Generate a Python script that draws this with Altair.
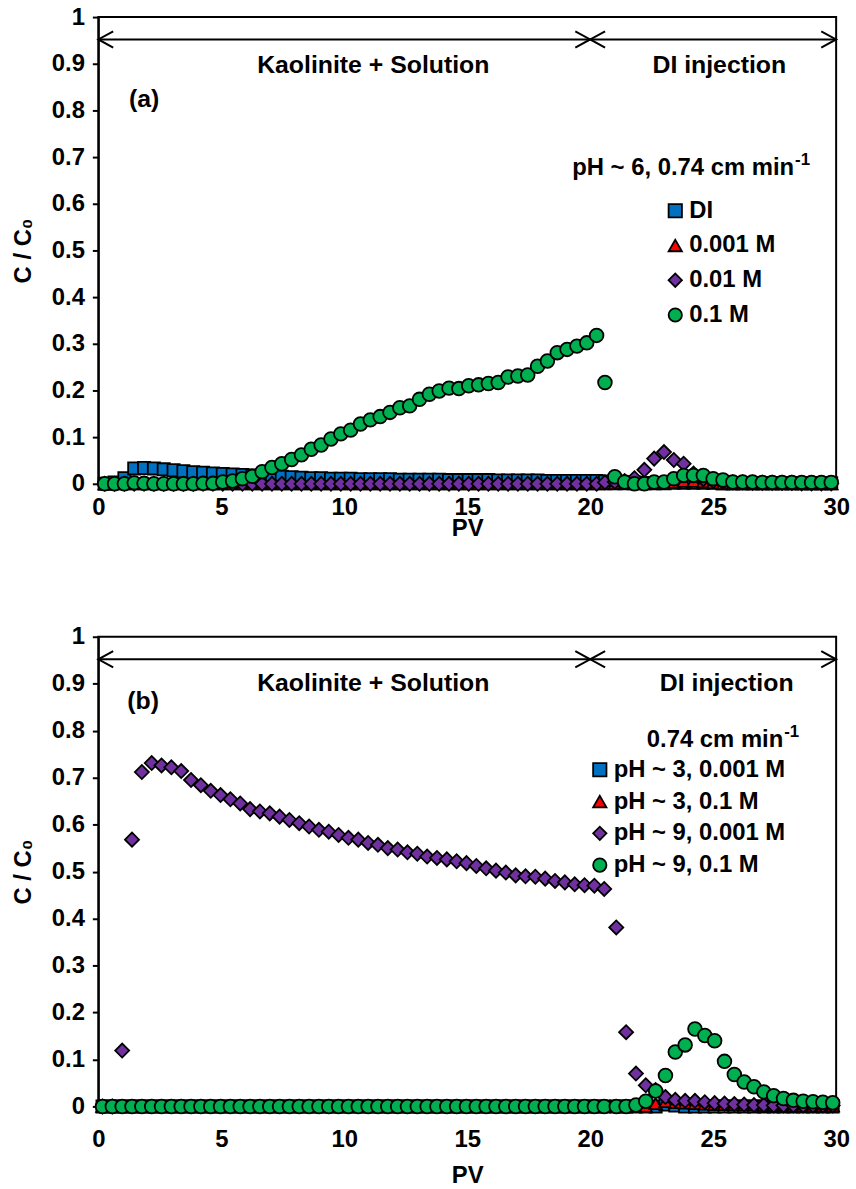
import altair as alt
import pandas as pd

FONT = "Liberation Sans, Arial, sans-serif"

# ---------------- panel (a) ----------------
pv_a = [0.26, 0.66, 1.06, 1.46, 1.86, 2.26, 2.66, 3.06, 3.46, 3.86,
        4.26, 4.66, 5.06, 5.46, 5.86, 6.26, 6.66, 7.06, 7.46, 7.86,
        8.26, 8.66, 9.06, 9.46, 9.86, 10.26, 10.66, 11.06, 11.46, 11.86,
        12.26, 12.66, 13.06, 13.46, 13.86, 14.26, 14.66, 15.06, 15.46, 15.86,
        16.26, 16.66, 17.06, 17.46, 17.86, 18.26, 18.66, 19.06, 19.46, 19.86,
        20.26, 20.6, 21.0, 21.4, 21.8, 22.2, 22.6, 23.0, 23.4, 23.8,
        24.2, 24.6, 25.0, 25.4, 25.8, 26.2, 26.6, 27.0, 27.4, 27.8,
        28.2, 28.6, 29.0, 29.4, 29.8]

di_a = [0, 0.003, 0.012, 0.033, 0.034, 0.033, 0.031, 0.029, 0.027, 0.025,
        0.024, 0.022, 0.021, 0.02, 0.019, 0.018, 0.017, 0.016, 0.015, 0.014,
        0.013, 0.012, 0.012, 0.011, 0.011, 0.011, 0.01, 0.01, 0.01, 0.01,
        0.009, 0.009, 0.009, 0.009, 0.009, 0.008, 0.008, 0.008, 0.008, 0.008,
        0.007, 0.007, 0.007, 0.007, 0.007, 0.006, 0.006, 0.006, 0.006, 0.006,
        0.006, 0.005, 0.004, 0.003, 0.003, 0.002, 0.002, 0.002, 0.002, 0.002,
        0.002, 0.002, 0.002, 0.001, 0.001, 0.001, 0.001, 0.001, 0.001, 0.001,
        0.001, 0.001, 0.001, 0.001, 0.001]

m0001_a = [0, 0, 0, 0, 0, 0, 0, 0, 0, 0,
           0, 0, 0, 0, 0, 0, 0, 0, 0, 0,
           0, 0, 0, 0, 0, 0, 0, 0, 0, 0,
           0, 0, 0, 0, 0, 0, 0, 0, 0, 0,
           0, 0, 0, 0, 0, 0, 0, 0, 0, 0,
           0, 0, 0, 0, 0, 0, 0, 0, 0.003, 0.005,
           0.005, 0.004, 0.002, 0, 0, 0, 0, 0, 0, 0,
           0, 0, 0, 0, 0]

m001_a = [0, 0, 0, 0, 0, 0, 0, 0, 0, 0,
          0, 0, 0, 0, 0, 0, 0, 0, 0, 0,
          0, 0, 0, 0, 0, 0, 0, 0, 0, 0,
          0, 0, 0, 0, 0, 0, 0, 0, 0, 0,
          0, 0, 0, 0, 0, 0, 0, 0, 0, 0,
          0, 0.003, 0.004, 0.006, 0.012, 0.03, 0.054, 0.068, 0.051, 0.043,
          0.022, 0.01, 0.006, 0.004, 0.003, 0.003, 0.002, 0.002, 0.002, 0.002,
          0.002, 0.001, 0.001, 0.001, 0.001]

m01_a = [0, 0, 0, 0.002, 0.001, 0, 0, 0, 0, 0,
         0.001, 0.001, 0.004, 0.006, 0.011, 0.016, 0.026, 0.035, 0.043, 0.052,
         0.062, 0.074, 0.083, 0.096, 0.107, 0.115, 0.128, 0.137, 0.144, 0.153,
         0.163, 0.167, 0.181, 0.192, 0.199, 0.205, 0.204, 0.21, 0.212, 0.215,
         0.217, 0.229, 0.231, 0.233, 0.252, 0.263, 0.281, 0.288, 0.295, 0.302,
         0.318, 0.217, 0.015, 0.004, 0, 0, 0.004, 0.004, 0.011, 0.018,
         0.018, 0.018, 0.011, 0.008, 0.004, 0.004, 0.004, 0.003, 0.003, 0.003,
         0.003, 0.003, 0.003, 0.003, 0.003]

names_a = ["DI", "0.001 M", "0.01 M", "0.1 M"]

# ---------------- panel (b) ----------------
pv_b = [0.17, 0.57, 0.97, 1.37, 1.77, 2.17, 2.57, 2.97, 3.37, 3.77,
        4.17, 4.57, 4.97, 5.37, 5.77, 6.17, 6.57, 6.97, 7.37, 7.77,
        8.17, 8.57, 8.97, 9.37, 9.77, 10.17, 10.57, 10.97, 11.37, 11.77,
        12.17, 12.57, 12.97, 13.37, 13.77, 14.17, 14.57, 14.97, 15.37, 15.77,
        16.17, 16.57, 16.97, 17.37, 17.77, 18.17, 18.57, 18.97, 19.37, 19.77,
        20.17, 20.57, 21.06, 21.46, 21.86, 22.26, 22.66, 23.06, 23.46, 23.86,
        24.26, 24.66, 25.06, 25.46, 25.86, 26.26, 26.66, 27.06, 27.46, 27.86,
        28.26, 28.66, 29.06, 29.46, 29.86]

ph3_0001_b = [0, 0, 0, 0, 0, 0, 0, 0, 0, 0,
              0, 0, 0, 0, 0, 0, 0, 0, 0, 0,
              0, 0, 0, 0, 0, 0, 0, 0, 0, 0,
              0, 0, 0, 0, 0, 0, 0, 0, 0, 0,
              0, 0, 0, 0, 0, 0, 0, 0, 0, 0,
              0, 0, 0, 0, 0, 0, 0, 0.004, 0.002, 0,
              0, 0, 0, 0, 0, 0, 0, 0, 0, 0,
              0, 0, 0, 0, 0]

ph3_01_b = [0, 0, 0, 0, 0, 0, 0, 0, 0, 0,
            0, 0, 0, 0, 0, 0, 0, 0, 0, 0,
            0, 0, 0, 0, 0, 0, 0, 0, 0, 0,
            0, 0, 0, 0, 0, 0, 0, 0, 0, 0,
            0, 0, 0, 0, 0, 0, 0, 0, 0, 0,
            0, 0, 0, 0, 0, 0, 0.006, 0.01, 0.008, 0.007,
            0.006, 0.005, 0.004, 0.004, 0.003, 0.003, 0.003, 0.002, 0.002, 0.002,
            0.001, 0.001, 0.001, 0.001, 0.001]

ph9_0001_b = [0, 0, 0.119, 0.568, 0.712, 0.731, 0.726, 0.722, 0.714, 0.695,
              0.684, 0.672, 0.663, 0.654, 0.645, 0.633, 0.628, 0.624, 0.617, 0.61,
              0.603, 0.596, 0.589, 0.585, 0.578, 0.572, 0.568, 0.561, 0.557, 0.55,
              0.547, 0.541, 0.538, 0.532, 0.529, 0.526, 0.522, 0.518, 0.512, 0.507,
              0.502, 0.498, 0.492, 0.49, 0.489, 0.485, 0.48, 0.477, 0.473, 0.471,
              0.47, 0.463, 0.381, 0.158, 0.07, 0.045, 0.035, 0.02, 0.014, 0.012,
              0.012, 0.009, 0.007, 0.006, 0.005, 0.004, 0.003, 0.003, 0.002, 0.002,
              0.002, 0.002, 0.002, 0.002, 0.002]

ph9_01_b = [0, 0, 0, 0, 0, 0, 0, 0, 0, 0,
            0, 0, 0, 0, 0, 0, 0, 0, 0, 0,
            0, 0, 0, 0, 0, 0, 0, 0, 0, 0,
            0, 0, 0, 0, 0, 0, 0, 0, 0, 0,
            0, 0, 0, 0, 0, 0, 0, 0, 0, 0,
            0, 0, 0, 0, 0.003, 0.011, 0.033, 0.066, 0.116, 0.131,
            0.165, 0.151, 0.14, 0.096, 0.068, 0.052, 0.042, 0.031, 0.023, 0.017,
            0.013, 0.011, 0.01, 0.009, 0.008]

names_b = ["pH ~ 3, 0.001 M", "pH ~ 3, 0.1 M", "pH ~ 9, 0.001 M", "pH ~ 9, 0.1 M"]

COLORS = ["#0070C0", "#FF0000", "#7030A0", "#00B050"]
OUTLINES = ["black", "black", "black", "black"]
SHAPES = ["square", "triangle-up", "diamond", "circle"]
SIZES = [150, 160, 200, 190]
X_TICKS = [0, 5, 10, 15, 20, 25, 30]
Y_TICKS = [0, 0.1, 0.2, 0.3, 0.4, 0.5, 0.6, 0.7, 0.8, 0.9, 1]

ARROW_LEFT = "M 1 -0.55 L 0 0 L 1 0.55"
ARROW_RIGHT = "M -1 -0.55 L 0 0 L -1 0.55"

AX_TEXT = dict(labelFont=FONT, labelFontSize=24, labelFontWeight="bold", labelColor="black",
               titleFont=FONT, titleFontSize=24, titleFontWeight="bold", titleColor="black",
               domainColor="black", domainWidth=2, tickColor="black", tickWidth=2)


def long_df(pv, series, names):
    rows = []
    for name, vals in zip(names, series):
        for x, y in zip(pv, vals):
            rows.append({"pv": x, "c": y, "series": name})
    return pd.DataFrame(rows)


def panel(df, names, height, leg_x, leg_y, row_pad, texts, sup_main, sup_exp,
          x_lab_pad, x_title_pad):
    xs = alt.Scale(domain=[0, 30], nice=False, zero=False)
    ys = alt.Scale(domain=[0, 1], nice=False)
    x_axis = alt.Axis(values=X_TICKS, ticks=False, tickSize=0, labelPadding=x_lab_pad,
                      titlePadding=x_title_pad, labelFlush=False, grid=False,
                      format="~g", **AX_TEXT)
    y_axis = alt.Axis(values=Y_TICKS, tickSize=6, labelPadding=8, titlePadding=16,
                      labelFlush=False, grid=False, format="~g", **AX_TEXT)

    def X(f):
        return alt.X(f, type="quantitative", scale=xs, axis=x_axis, title="PV")

    def Y(f):
        return alt.Y(f, type="quantitative", scale=ys, axis=y_axis, title="C / C\u2080")

    leg = alt.Legend(title=None, orient="none", legendX=leg_x, legendY=leg_y,
                     labelFontSize=24, labelFont=FONT, labelFontWeight="bold",
                     labelColor="black", symbolSize=180, symbolStrokeWidth=1.8,
                     symbolStrokeColor="black", symbolOpacity=1, rowPadding=row_pad,
                     labelOffset=2, padding=0, labelLimit=400)

    # one layer per series (drawn in legend order, last on top)
    point_layers = []
    for name, sz in zip(names, SIZES):
        point_layers.append(
            alt.Chart(df).transform_filter(alt.datum.series == name)
            .mark_point(filled=True, strokeWidth=1.8, opacity=1, size=sz)
            .encode(
                x=X("pv"), y=Y("c"),
                fill=alt.Fill("series:N", scale=alt.Scale(domain=names, range=COLORS),
                              legend=leg),
                stroke=alt.Stroke("series:N", scale=alt.Scale(domain=names, range=OUTLINES),
                                  legend=leg),
                shape=alt.Shape("series:N", scale=alt.Scale(domain=names, range=SHAPES),
                                legend=leg),
            )
        )

    line_df = pd.DataFrame({"x1": [0], "x2": [30], "y": [0.952]})
    line = alt.Chart(line_df).mark_rule(color="black", strokeWidth=2).encode(
        x=X("x1"), x2="x2:Q", y=Y("y"))

    left_df = pd.DataFrame({"x": [0, 20], "y": [0.952, 0.952]})
    right_df = pd.DataFrame({"x": [20, 30], "y": [0.952, 0.952]})
    heads_l = alt.Chart(left_df).mark_point(shape=ARROW_LEFT, size=900, filled=False,
                                            color="black", strokeWidth=2, opacity=1).encode(
        x=X("x"), y=Y("y"))
    heads_r = alt.Chart(right_df).mark_point(shape=ARROW_RIGHT, size=900, filled=False,
                                             color="black", strokeWidth=2, opacity=1).encode(
        x=X("x"), y=Y("y"))

    txt = alt.Chart(pd.DataFrame(texts)).mark_text(
        font=FONT, fontSize=25, fontWeight="bold", color="black", baseline="middle",
        align="center").encode(x=X("x"), y=Y("y"), text="t:N")

    s_main = alt.Chart(pd.DataFrame(sup_main)).mark_text(
        font=FONT, fontSize=24, fontWeight="bold", color="black", baseline="middle",
        align="right").encode(x=X("x"), y=Y("y"), text="t:N")
    s_exp = alt.Chart(pd.DataFrame(sup_exp)).mark_text(
        font=FONT, fontSize=17, fontWeight="bold", color="black", baseline="middle",
        align="left").encode(x=X("x"), y=Y("y"), text="t:N")

    return alt.layer(line, heads_l, heads_r, *point_layers, txt, s_main, s_exp).properties(
        width=743, height=height)


df_a = long_df(pv_a, [di_a, m0001_a, m001_a, m01_a], names_a)
df_b = long_df(pv_b, [ph3_0001_b, ph3_01_b, ph9_0001_b, ph9_01_b], names_b)

top = panel(
    df_a, names_a, 470, 569, 183, 11,
    {"x": [11.18, 25.25, 1.86], "y": [0.898, 0.898, 0.825],
     "t": ["Kaolinite + Solution", "DI injection", "(a)"]},
    {"x": [28.29], "y": [0.676], "t": ["pH ~ 6, 0.74 cm min"]},
    {"x": [28.33], "y": [0.694], "t": ["-1"]},
    12, -3)

bottom = panel(
    df_b, names_b, 473, 493, 122, 8,
    {"x": [11.18, 25.55, 1.82], "y": [0.902, 0.902, 0.862],
     "t": ["Kaolinite + Solution", "DI injection", "(b)"]},
    {"x": [27.85], "y": [0.78], "t": ["0.74 cm min"]},
    {"x": [27.89], "y": [0.797], "t": ["-1"]},
    21, 13)

chart = alt.vconcat(top, bottom, spacing=83).resolve_scale(
    fill="independent", shape="independent", stroke="independent"
).resolve_legend(
    fill="independent", shape="independent", stroke="independent"
).properties(
    padding={"left": 10, "top": 0, "right": 5, "bottom": 5},
    background="white"
).configure_view(
    stroke="black", strokeWidth=2
)

chart.save("out.html", embed_options={"renderer": "svg", "actions": False})
